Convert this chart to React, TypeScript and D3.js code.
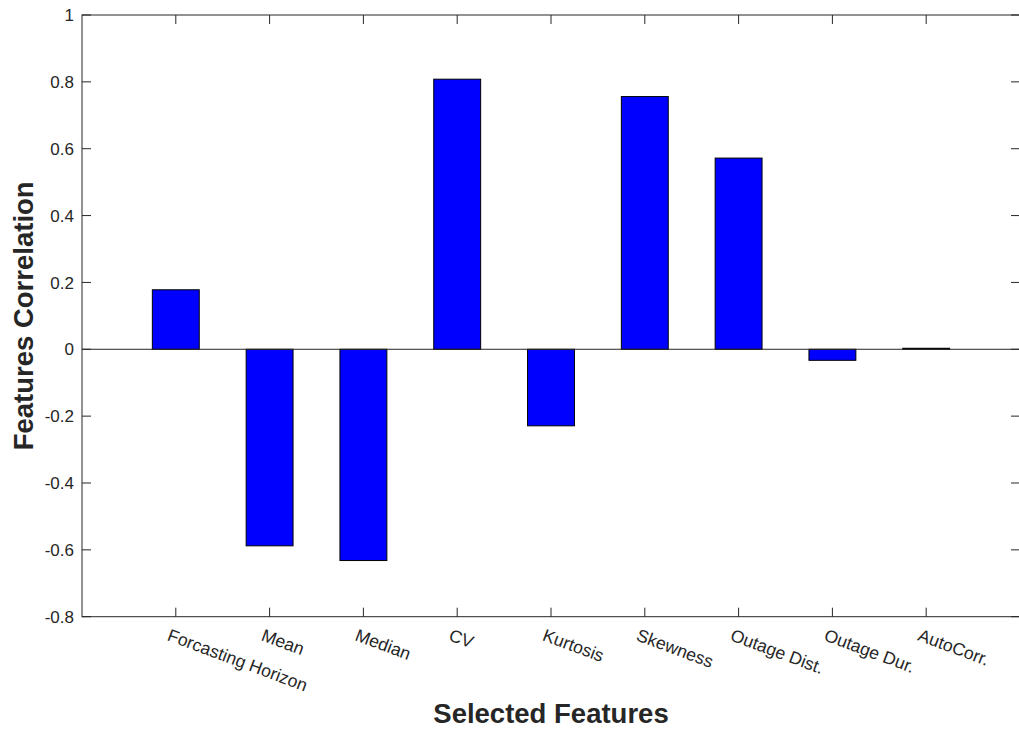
import React from "react";
import * as d3 from "d3";

const categories = [
  "Forcasting Horizon",
  "Mean",
  "Median",
  "CV",
  "Kurtosis",
  "Skewness",
  "Outage Dist.",
  "Outage Dur.",
  "AutoCorr.",
];
const correlations = [0.178, -0.588, -0.632, 0.808, -0.229, 0.756, 0.572, -0.033, 0.003];
const yTicks = [-0.8, -0.6, -0.4, -0.2, 0, 0.2, 0.4, 0.6, 0.8, 1];

const W = 1019;
const H = 729;
const left = 82;
const right = 1020;
const top = 15;
const bottom = 616.7;

export default function App() {
  const x = d3.scaleLinear().domain([0, categories.length + 1]).range([left, right]);
  const y = d3.scaleLinear().domain([-0.8, 1]).range([bottom, top]);
  const barW = x(0.5) - x(0);
  const axisColor = "#262626";
  const font = "'Liberation Sans', Arial, Helvetica, sans-serif";
  const tickLen = 9;
  const fmt = (v: number) => String(+v.toFixed(1)).replace("\u2212", "-");

  return (
    <svg
      width={W}
      height={H}
      style={{ position: "absolute", left: 0, top: 0, background: "#fff" }}
      fontFamily={font}
    >
      <rect x={0} y={0} width={W} height={H} fill="#fff" />
      {/* bars */}
      {correlations.map((v, i) => {
        const cx = x(i + 1);
        const y0 = y(0);
        const y1 = y(v);
        return (
          <rect
            key={categories[i]}
            x={cx - barW / 2}
            y={Math.min(y0, y1)}
            width={barW}
            height={Math.max(Math.abs(y1 - y0), 0.5)}
            fill="#0000ff"
            stroke="#000"
            strokeWidth={1}
          />
        );
      })}
      {/* baseline */}
      <line x1={left} x2={right} y1={y(0)} y2={y(0)} stroke="#262626" strokeWidth={1} />
      {/* box */}
      <rect x={left} y={top} width={right - left} height={bottom - top} fill="none" stroke={axisColor} strokeWidth={1} />
      {/* y ticks */}
      {yTicks.map((t) => (
        <g key={t}>
          <line x1={left} x2={left + tickLen} y1={y(t)} y2={y(t)} stroke={axisColor} />
          <line x1={right - tickLen} x2={right} y1={y(t)} y2={y(t)} stroke={axisColor} />
          <text x={74} y={y(t)} dy="0.36em" textAnchor="end" fontSize={17} fill={axisColor}>
            {fmt(t)}
          </text>
        </g>
      ))}
      {/* x ticks */}
      {categories.map((c, i) => {
        const cx = x(i + 1);
        return (
          <g key={c}>
            <line x1={cx} x2={cx} y1={bottom} y2={bottom - tickLen} stroke={axisColor} />
            <line x1={cx} x2={cx} y1={top} y2={top + tickLen} stroke={axisColor} />
            <text
              transform={`translate(${cx - 5},${628}) rotate(20.5)`}
              dy="0.72em"
              textAnchor="start"
              fontSize={17.6}
              fill={axisColor}
            >
              {c}
            </text>
          </g>
        );
      })}
      {/* axis titles */}
      <text x={(left + right) / 2} y={723} textAnchor="middle" fontSize={27.5} fontWeight="bold" fill={axisColor}>
        Selected Features
      </text>
      <text
        transform={`translate(33,${(top + bottom) / 2}) rotate(-90)`}
        textAnchor="middle"
        fontSize={27.5}
        fontWeight="bold"
        fill={axisColor}
      >
        Features Correlation
      </text>
    </svg>
  );
}
